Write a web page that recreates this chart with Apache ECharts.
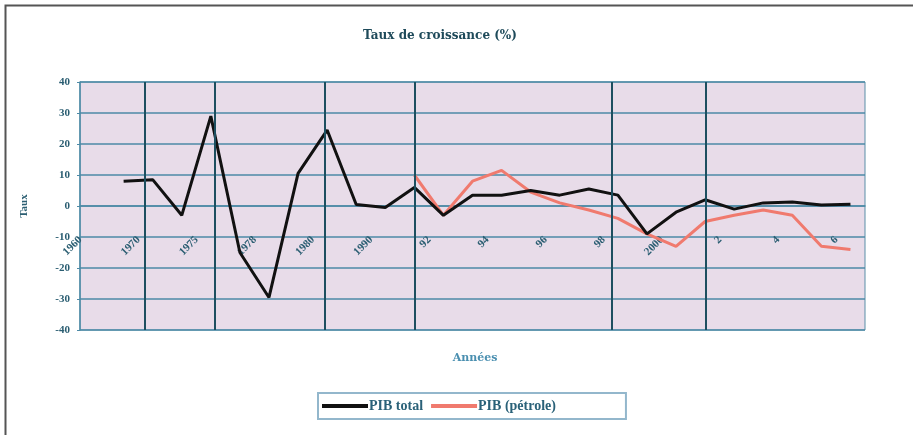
<!DOCTYPE html>
<html>
<head>
<meta charset="utf-8">
<script src="https://cdn.jsdelivr.net/npm/echarts@6/dist/echarts.min.js"></script>
<style>
html,body{margin:0;padding:0;background:#fff;}
#main{width:913px;height:435px;}
</style>
</head>
<body>
<div id="main"></div>
<script>
// Categories (years), labels shown every other one
var years = ['1960','1965','1970','1973','1975','1977','1978','1979','1980','1985','1990','91','92','93','94','95','96','97','98','99','2000','1','2','3','4','5','6'];
// PIB total growth (%)
var pibTotal = [null, 8, 8.5, -3, 29, -15, -29.5, 10.5, 24.5, 0.5, -0.5, 6, -3, 3.5, 3.5, 5, 3.5, 5.5, 3.5, -9, -2, 2, -1, 1, 1.3, 0.3, 0.6];
// PIB pétrole growth (%)
var pibPetrole = [null, null, null, null, null, null, null, null, null, null, null, 10, -3, 8, 11.5, 4.5, 1, -1.3, -4, -9, -13, -5, -3, -1.3, -3, -13, -14];
// Period separators (in category index units)
var separators = [1.74, 4.14, 7.93, 11.02, 17.8, 21.03];
var yTicks = {min: -40, max: 40, interval: 10};

var gridTop = 82, gridBottom = 105, H = 435;
var gridH = H - gridTop - gridBottom;
// shift x axis up so that it sits on the zero line
var zeroOffset = -gridH * (0 - yTicks.min) / (yTicks.max - yTicks.min);

var chart = echarts.init(document.getElementById('main'));
var teal = '#2b5e72';
var option = {
  backgroundColor: '#ffffff',
  animation: false,
  title: [
    {text: 'Taux de croissance (%)', left: 435, top: 25, textAlign: 'center',
     textStyle: {fontFamily: 'DejaVu Serif', fontSize: 12, fontWeight: 'bold', color: '#1e4a5a'}},
    {text: 'Années', left: 470, top: 348, textAlign: 'center',
     textStyle: {fontFamily: 'DejaVu Serif', fontSize: 11, fontWeight: 'bold', color: '#4a8fb0'}}
  ],
  graphic: [
    {type: 'rect', left: 3, top: 3, shape: {width: 1200, height: 1200}, style: {fill: 'none', stroke: '#555', lineWidth: 2}, z: -1}
  ],
  legend: {
    left: 318, top: 393,
    padding: [6, 70, 6, 4],
    itemWidth: 46, itemHeight: 4, itemGap: 8,
    borderColor: '#93b7cc', borderWidth: 2,
    icon: 'rect',
    textStyle: {fontFamily: 'Liberation Serif', fontSize: 14, fontWeight: 'bold', color: '#2a6178', padding: [0, 0, 0, -4]},
    data: ['PIB total', 'PIB (pétrole)']
  },
  grid: {left: 80, right: 48, top: gridTop, bottom: gridBottom, show: true, backgroundColor: '#e8dce9', borderColor: '#5b8fa8', borderWidth: 1},
  xAxis: [
    {type: 'category', data: years, boundaryGap: true, offset: zeroOffset,
     axisLine: {onZero: false, lineStyle: {color: '#4d8aa6', width: 1.5}},
     axisTick: {inside: true, length: 3, interval: 0, lineStyle: {color: '#4d8aa6'}},
     axisLabel: {interval: 1, rotate: 45, margin: 18, padding: [0, 20, 0, 0], color: teal, fontFamily: 'Liberation Serif', fontSize: 11, fontWeight: 'bold'},
     splitLine: {show: false}},
    {type: 'value', min: -0.5, max: 26.5, show: false, axisLine: {onZero: false}}
  ],
  yAxis: {
    type: 'value', min: yTicks.min, max: yTicks.max, interval: yTicks.interval,
    name: 'Taux', nameLocation: 'middle', nameGap: 50, nameRotate: 90,
    nameTextStyle: {color: teal, fontFamily: 'Liberation Serif', fontSize: 11, fontWeight: 'bold'},
    axisLine: {show: true, onZero: false, lineStyle: {color: '#4d8aa6', width: 1.5}},
    axisTick: {show: true, length: 3, lineStyle: {color: '#4d8aa6'}},
    axisLabel: {color: teal, fontFamily: 'Liberation Serif', fontSize: 11, fontWeight: 'bold', margin: 10},
    splitLine: {lineStyle: {color: '#4d8aa6', width: 1.5}}
  },
  series: [
    {name: 'sep', type: 'line', xAxisIndex: 1, data: [], silent: true,
     markLine: {symbol: 'none', silent: true, label: {show: false},
       lineStyle: {color: '#1d4f60', width: 2, type: 'solid'},
       data: separators.map(function (v) { return {xAxis: v}; })}},
    {name: 'PIB total', type: 'line', data: pibTotal, symbol: 'none', z: 4,
     lineStyle: {color: '#111111', width: 3}, itemStyle: {color: '#111111'}},
    {name: 'PIB (pétrole)', type: 'line', data: pibPetrole, symbol: 'none', z: 3,
     lineStyle: {color: '#f07a6e', width: 3}, itemStyle: {color: '#f07a6e'}}
  ]
};
chart.setOption(option);
</script>
</body>
</html>
